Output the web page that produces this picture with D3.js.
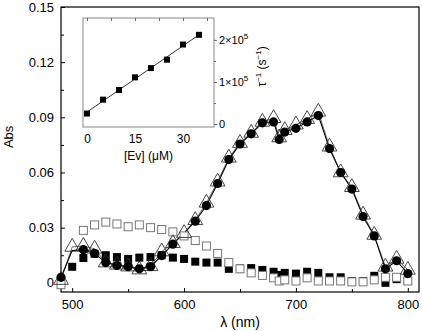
<!DOCTYPE html>
<html>
<head>
<meta charset="utf-8">
<script src="https://cdn.jsdelivr.net/npm/d3@7"></script>
<style>
    body { margin: 0; background: #fff; }
    svg { display: block; font-family: "Liberation Sans", Arial, sans-serif; }
</style>
</head>
<body>
<div id="chart"></div>
<script>
// data
const wavelengths = [490, 500, 510, 520, 530, 540, 550, 560, 570, 580, 590, 600, 610, 620, 630, 640, 650,
    660, 670, 680, 685, 690, 700, 710, 720, 730, 740, 750, 760, 770, 780, 790, 800];
const openSquares = [-0.001, null, 0.0285, 0.0315, 0.033, 0.032, 0.0305, 0.0315, 0.030, 0.029, 0.0277, 0.0255, 0.023, 0.020, 0.016, 0.011, 0.0076,
    0.0054, 0.004, 0.0027, 0.001, 0.0016, 0.001, 0.0027, 0.001, 0.001, 0.001, 0.0005, 0.0005, 0.0016, 0.003, 0.003, 0.001];
const filledSquares = [null, 0.0087, 0.0135, 0.0158, 0.015, 0.014, 0.013, 0.0137, 0.014, 0.015, 0.0137, 0.013, 0.0115, 0.011, 0.011, 0.0076, 0.0078,
    0.008, 0.007, 0.006, 0.0043, 0.0054, 0.005, 0.006, 0.0054, 0.003, 0.003, 0.001, 0.001, 0.0038, 0.0, 0.002, 0.001];
const triangles = [0.0015, 0.0195, 0.020, 0.0185, 0.011, 0.0098, 0.0088, 0.0072, 0.009, 0.017, 0.0215, 0.027, 0.034, 0.0435, 0.055, 0.068, 0.076,
    0.0815, 0.0875, 0.0895, 0.079, 0.083, 0.086, 0.089, 0.093, 0.074, 0.060, 0.052, 0.037, 0.026, 0.0087, 0.013, 0.007];
const circles = [0.003, 0.0175, 0.018, 0.016, 0.011, 0.0094, 0.0088, 0.0076, 0.0088, 0.0148, 0.021, 0.027, 0.0335, 0.042, 0.054, 0.067, 0.0755,
    0.081, 0.087, 0.0875, 0.078, 0.082, 0.084, 0.0875, 0.091, 0.073, 0.060, 0.051, 0.036, 0.0255, 0.0076, 0.012, 0.005];
// circles that sit on the line but have no marker drawn
const circlesHidden = [500, 600];

const xTicks = [500, 600, 700, 800];
const xMinorTicks = [550, 650, 750];
const yTicks = [0, 0.03, 0.06, 0.09, 0.12, 0.15];
const yMinorTicks = [0.015, 0.045, 0.075, 0.105, 0.135];

// inset: decay rate vs concentration
const insetConc = [0, 5, 10, 15, 20, 25, 30, 35];
const insetRate = [0.25e5, 0.58e5, 0.81e5, 1.11e5, 1.33e5, 1.53e5, 1.89e5, 2.12e5];
const insetXTicks = [0, 15, 30];
const insetXMinorTicks = [7.5, 22.5, 37.5];
const insetYTicks = [0, 1e5, 2e5];
const insetYMinorTicks = [0.5e5, 1.5e5];

// layout
const width = 422;
const height = 331;
const margin = {t:7, r:3, b:39, l:61};
const w = width - margin.l - margin.r;
const h = height - margin.t - margin.b;

const svg = d3.select('#chart')
    .append('svg')
    .attr('width', width)
    .attr('height', height);

const plot = svg.append('g')
    .attr('transform', `translate(${margin.l},${margin.t})`);

// scales
const scaleX = d3.scaleLinear()
    .domain([490, 810])
    .range([0, w]);
const scaleY = d3.scaleLinear()
    .domain([-0.005, 0.15])
    .range([h, 0]);

// axes, ticks pointing inward
const axisX = d3.axisBottom(scaleX)
    .tickValues(xTicks)
    .tickSize(-4)
    .tickPadding(8)
    .tickFormat(d3.format('d'));
const axisXMinor = d3.axisBottom(scaleX)
    .tickValues(xMinorTicks)
    .tickSize(-3)
    .tickFormat('');
const axisY = d3.axisLeft(scaleY)
    .tickValues(yTicks)
    .tickSize(-4)
    .tickPadding(7)
    .tickFormat(d => d === 0 ? '0' : d3.format('.2f')(d));
const axisYMinor = d3.axisLeft(scaleY)
    .tickValues(yMinorTicks)
    .tickSize(-3)
    .tickFormat('');

[axisX, axisXMinor].forEach(ax => {
    plot.append('g')
        .attr('class', 'axis axis-x')
        .attr('transform', `translate(0,${h})`)
        .call(ax);
});
[axisY, axisYMinor].forEach(ax => {
    plot.append('g')
        .attr('class', 'axis axis-y')
        .call(ax);
});
plot.selectAll('.axis .domain').remove();
plot.selectAll('.axis text')
    .style('font-size', '13px')
    .style('fill', '#000');

// frame
plot.append('rect')
    .attr('width', w)
    .attr('height', h)
    .style('fill', 'none')
    .style('stroke', '#000')
    .style('stroke-width', 1.2);

// axis titles
svg.append('text')
    .attr('transform', `translate(13,${margin.t + scaleY(0.075) - 8}) rotate(-90)`)
    .attr('text-anchor', 'middle')
    .style('font-size', '13px')
    .text('Abs');
svg.append('text')
    .attr('x', margin.l + w / 2)
    .attr('y', 327)
    .attr('text-anchor', 'middle')
    .style('font-size', '14px')
    .text('λ (nm)');

// build point records
const rows = wavelengths.map((wl, i) => ({
    wl: wl,
    open: openSquares[i],
    filled: filledSquares[i],
    tri: triangles[i],
    circ: circles[i]
}));

// lines through triangles and circles
const lineTri = d3.line()
    .x(d => scaleX(d.wl))
    .y(d => scaleY(d.tri));
const lineCirc = d3.line()
    .x(d => scaleX(d.wl))
    .y(d => scaleY(d.circ));
plot.append('path')
    .attr('d', lineTri(rows))
    .style('fill', 'none')
    .style('stroke', '#444')
    .style('stroke-width', 0.8);
plot.append('path')
    .attr('d', lineCirc(rows))
    .style('fill', 'none')
    .style('stroke', '#000')
    .style('stroke-width', 1.1);

// filled squares
const sq = 8;
plot.selectAll('.filled-sq')
    .data(rows.filter(d => d.filled !== null))
    .enter()
    .append('rect')
    .classed('filled-sq', true)
    .attr('x', d => scaleX(d.wl) - sq / 2)
    .attr('y', d => scaleY(d.filled) - sq / 2)
    .attr('width', sq)
    .attr('height', sq)
    .style('fill', '#000');

// open squares
plot.selectAll('.open-sq')
    .data(rows.filter(d => d.open !== null))
    .enter()
    .append('rect')
    .classed('open-sq', true)
    .attr('x', d => scaleX(d.wl) - sq / 2)
    .attr('y', d => scaleY(d.open) - sq / 2)
    .attr('width', sq)
    .attr('height', sq)
    .style('fill', '#fff')
    .style('stroke', '#777')
    .style('stroke-width', 1);

// open triangles
const triSymbol = d3.symbol().type(d3.symbolTriangle).size(95);
plot.selectAll('.tri')
    .data(rows)
    .enter()
    .append('path')
    .classed('tri', true)
    .attr('transform', d => `translate(${scaleX(d.wl)},${scaleY(d.tri)})`)
    .attr('d', triSymbol)
    .style('fill', 'none')
    .style('stroke', '#333')
    .style('stroke-width', 0.9);

// filled circles
plot.selectAll('.circ')
    .data(rows.filter(d => !circlesHidden.includes(d.wl)))
    .enter()
    .append('circle')
    .classed('circ', true)
    .attr('cx', d => scaleX(d.wl))
    .attr('cy', d => scaleY(d.circ))
    .attr('r', 4.6)
    .style('fill', '#000');

/* INSET */
const inset = {l:83, t:18, r:214, b:127};
const iw = inset.r - inset.l;
const ih = inset.b - inset.t;
const gi = svg.append('g')
    .attr('transform', `translate(${inset.l},${inset.t})`);

const insetX = d3.scaleLinear()
    .domain([-1.25, 39.7])
    .range([0, iw]);
const insetY = d3.scaleLinear()
    .domain([-0.07e5, 2.52e5])
    .range([ih, 0]);

gi.append('rect')
    .attr('width', iw)
    .attr('height', ih)
    .style('fill', '#fff')
    .style('stroke', '#888')
    .style('stroke-width', 1);

// inset axes
const iAxisX = d3.axisBottom(insetX)
    .tickValues(insetXTicks)
    .tickSize(0)
    .tickPadding(7)
    .tickFormat(d3.format('d'));
const iAxisTop = d3.axisTop(insetX)
    .tickValues(insetXTicks.concat(insetXMinorTicks))
    .tickSize(-3)
    .tickFormat('');
const iAxisY = d3.axisRight(insetY)
    .tickValues(insetYTicks)
    .tickSize(3)
    .tickPadding(2)
    .tickFormat(d => d === 0 ? '0' : `${d / 1e5}×10`);
const iAxisYMinor = d3.axisRight(insetY)
    .tickValues(insetYMinorTicks)
    .tickSize(2)
    .tickFormat('');

gi.append('g')
    .attr('class', 'iaxis')
    .attr('transform', `translate(0,${ih})`)
    .call(iAxisX);
gi.append('g')
    .attr('class', 'iaxis')
    .call(iAxisTop);
gi.append('g')
    .attr('class', 'iaxis iaxis-y')
    .attr('transform', `translate(${iw},0)`)
    .call(iAxisY);
gi.append('g')
    .attr('class', 'iaxis')
    .attr('transform', `translate(${iw},0)`)
    .call(iAxisYMinor);
gi.selectAll('.iaxis .domain').remove();
gi.selectAll('.iaxis line').style('stroke', '#666');
gi.selectAll('.iaxis text')
    .style('font-size', '12px')
    .style('fill', '#000');
gi.selectAll('.iaxis-y text')
    .style('font-size', '11px')
    .filter(d => d !== 0)
    .append('tspan')
    .attr('dy', -5)
    .style('font-size', '8px')
    .text('5');

// inset titles
svg.append('text')
    .attr('x', (inset.l + inset.r) / 2)
    .attr('y', 160)
    .attr('text-anchor', 'middle')
    .style('font-size', '12px')
    .text('[Ev] (μM)');
const rateTitle = svg.append('text')
    .attr('transform', `translate(266,${(inset.t + inset.b) / 2 - 6}) rotate(-90)`)
    .attr('text-anchor', 'middle')
    .style('font-size', '12px');
rateTitle.append('tspan').text('τ');
rateTitle.append('tspan').attr('dy', -5).style('font-size', '8px').text('−1');
rateTitle.append('tspan').attr('dy', 5).text(' (s');
rateTitle.append('tspan').attr('dy', -5).style('font-size', '8px').text('−1');
rateTitle.append('tspan').attr('dy', 5).text(')');

// least squares fit through the inset points
const mx = d3.mean(insetConc);
const my = d3.mean(insetRate);
const slope = d3.sum(insetConc, (x, i) => (x - mx) * (insetRate[i] - my)) / d3.sum(insetConc, x => (x - mx) ** 2);
const intercept = my - slope * mx;
const fitExtent = d3.extent(insetConc);
gi.append('path')
    .attr('d', d3.line()
        .x(d => insetX(d))
        .y(d => insetY(intercept + slope * d))(fitExtent))
    .style('fill', 'none')
    .style('stroke', '#000')
    .style('stroke-width', 0.8);

const isq = 6;
gi.selectAll('.inset-sq')
    .data(insetConc.map((c, i) => ({c: c, r: insetRate[i]})))
    .enter()
    .append('rect')
    .classed('inset-sq', true)
    .attr('x', d => insetX(d.c) - isq / 2)
    .attr('y', d => insetY(d.r) - isq / 2)
    .attr('width', isq)
    .attr('height', isq)
    .style('fill', '#000');
</script>
</body>
</html>
